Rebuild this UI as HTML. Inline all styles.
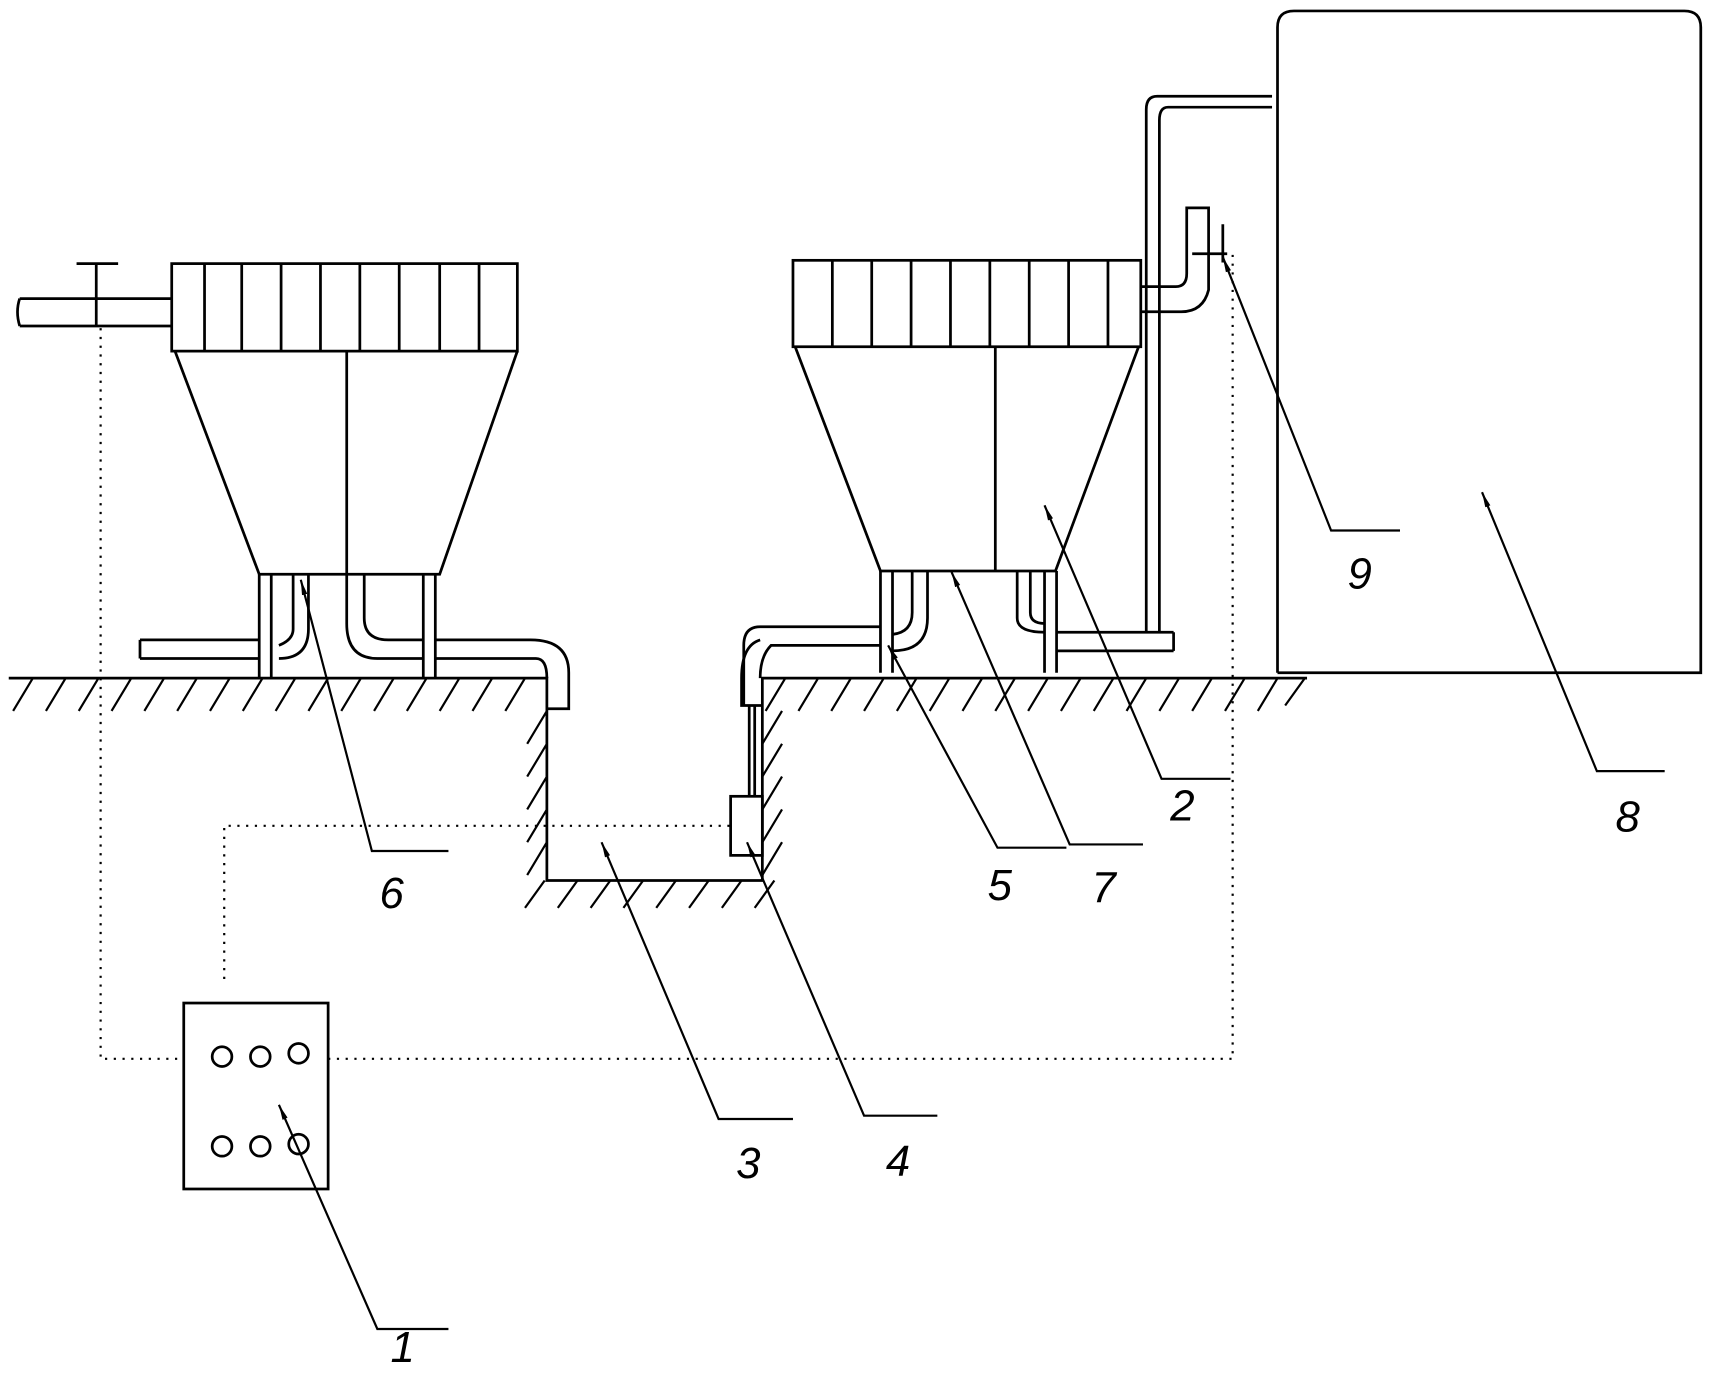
<!DOCTYPE html>
<html><head><meta charset="utf-8"><style>
html,body{margin:0;padding:0;background:#fff}
svg{display:block}
text{font-family:"Liberation Sans",sans-serif;font-style:italic;font-size:40px;fill:#000}
</style></head><body>
<svg width="1715" height="1399" viewBox="0 0 1568 1279" preserveAspectRatio="none" xmlns="http://www.w3.org/2000/svg">
<defs>
<marker id="a" markerWidth="14" markerHeight="6" refX="0" refY="3" orient="auto" markerUnits="userSpaceOnUse">
<path d="M0 3L14 0.5V5.5Z" fill="#000"/>
</marker>
</defs>
<g fill="none" stroke="#000" stroke-width="2.5">
<rect x="157" y="241" width="316" height="80"/>
<path d="M187 241V321M221 241V321M257 241V321M293 241V321M329 241V321M365 241V321M402 241V321M438 241V321"/>
<path d="M160 321L237 525H402L473 321M317 321V525"/>
<path d="M237 525V620M248 525V620M387 525V620M398 525V620"/>
<path d="M268 525V575Q268 585 255 590M282 525V575Q282 602 255 602"/>
<path d="M317 525V570Q317 602 345 602H387M333 525V565Q333 585 355 585H387"/>
<path d="M128 585H237M128 602H237M128 585V602M398 585H485Q520 585 520 615V648H500M398 602H490Q500 602 500 620"/>
<path d="M18 273H157M18 298H157M18 273Q14 285 18 298M88 241V298M70 241H108"/>
<path d="M8 620H500V805H697V620H1195"/>
<rect x="725" y="238" width="318" height="79"/>
<path d="M761 238V317M797 238V317M833 238V317M869 238V317M905 238V317M941 238V317M977 238V317M1013 238V317"/>
<path d="M727 317L805 522H965L1041 317M910 317V522"/>
<path d="M805 522V615M816 522V615M955 522V615M966 522V615"/>
<path d="M834 522V560Q834 578 816 580M848 522V565Q848 595 816 595"/>
<path d="M930 522V565Q930 578 955 578M942 522V560Q942 570 955 570"/>
<path d="M1073 578V595M966 578H1073M966 595H1073"/>
<path d="M805 573H695Q680 573 680 590V645M805 590H705Q695 600 695 620"/>
<path d="M695 585Q678 590 678 620V645H697M685 645V728M690 645V728"/>
<rect x="668" y="728" width="29" height="54"/>
<path d="M1043 262H1075Q1085 262 1085 250V190H1105V265Q1100 285 1080 285H1043M1118 205V240M1090 232H1122"/>
<path d="M1163 88H1058Q1048 88 1048 100V578M1163 98H1068Q1060 98 1060 110V578"/>
<path d="M1168 615V25Q1168 10 1183 10H1540Q1555 10 1555 25V615H1168"/>
<rect x="168" y="917" width="132" height="170"/>
<circle cx="203" cy="966" r="9"/><circle cx="238" cy="966" r="9"/><circle cx="273" cy="963" r="9"/>
<circle cx="203" cy="1048" r="9"/><circle cx="238" cy="1048" r="9"/><circle cx="273" cy="1046" r="9"/>
</g>
<g stroke="#000" stroke-width="2">
<path d="M12 650l18-30M42 650l18-30M72 650l18-30M102 650l18-30M132 650l18-30M162 650l18-30M192 650l18-30M222 650l18-30M252 650l18-30M282 650l18-30M312 650l18-30M342 650l18-30M372 650l18-30M402 650l18-30M432 650l18-30M462 650l18-30"/>
<path d="M482 680l18-30M482 710l18-30M482 740l18-30M482 770l18-30M482 800l18-30"/>
<path d="M480 830l18-25M510 830l18-25M540 830l18-25M570 830l18-25M600 830l18-25M630 830l18-25M660 830l18-25M690 830l18-25"/>
<path d="M697 680l18-30M697 710l18-30M697 740l18-30M697 770l18-30M697 800l18-30"/>
<path d="M700 650l18-30M730 650l18-30M760 650l18-30M790 650l18-30M820 650l18-30M850 650l18-30M880 650l18-30M910 650l18-30M940 650l18-30M970 650l18-30M1000 650l18-30M1030 650l18-30M1060 650l18-30M1090 650l18-30M1120 650l18-30M1150 650l18-30M1175 645l18-25"/>
</g>
<g fill="none" stroke="#000" stroke-width="2" stroke-dasharray="2 6">
<path d="M92 300V968H168M300 968H1127V230"/>
<path d="M205 895V755H668"/>
</g>
<g fill="none" stroke="#000" stroke-width="2" marker-start="url(#a)">
<path d="M255 1010L345 1215H410"/>
<path d="M955 462L1062 712H1125"/>
<path d="M550 770L657 1023H725"/>
<path d="M683 770L790 1020H857"/>
<path d="M812 590L912 775H975"/>
<path d="M275 530L340 778H410"/>
<path d="M870 523L978 772H1045"/>
<path d="M1355 450L1460 705H1522"/>
<path d="M1118 235L1217 485H1280"/>
</g>
<text x="357" y="1245">1</text>
<text x="1070" y="750">2</text>
<text x="673" y="1077">3</text>
<text x="810" y="1075">4</text>
<text x="903" y="823">5</text>
<text x="347" y="830">6</text>
<text x="998" y="825">7</text>
<text x="1477" y="760">8</text>
<text x="1232" y="538">9</text>
</svg>
</body></html>
